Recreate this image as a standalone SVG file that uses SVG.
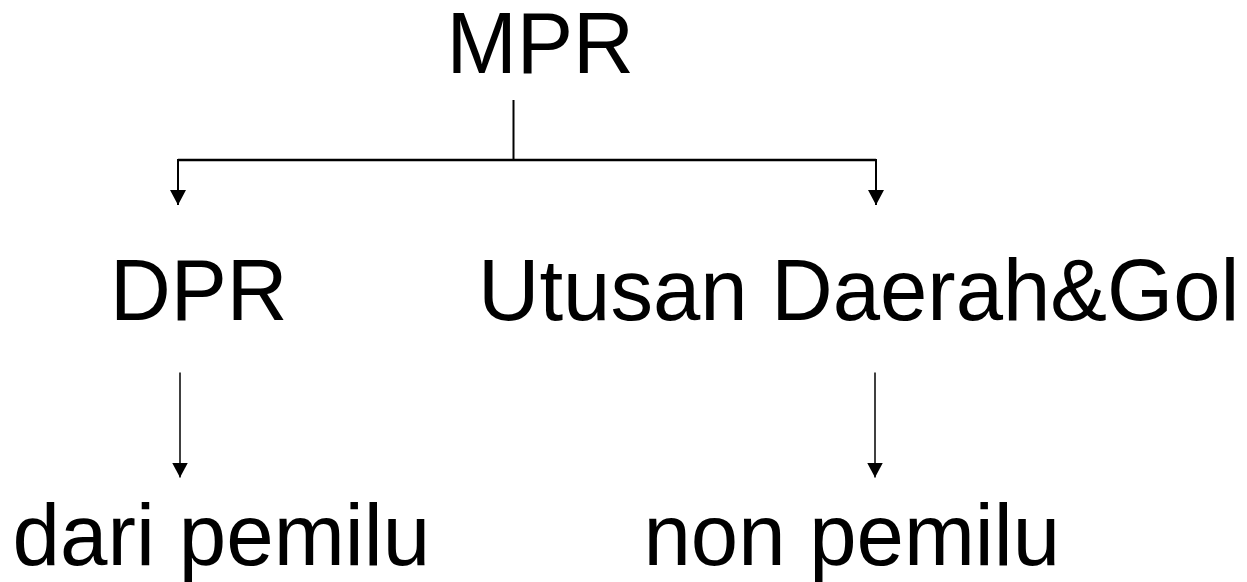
<svg xmlns="http://www.w3.org/2000/svg" width="1247" height="582" viewBox="0 0 1247 582">
  <style>
    .lbl { font-family: "Liberation Sans", Arial, sans-serif; font-size: 88px; fill: #000; }
    .conn { stroke: #000; fill: none; }
  </style>
  <defs>
    <marker id="arrow" markerUnits="userSpaceOnUse" viewBox="0 -8 15 16" refX="15" refY="0" markerWidth="15" markerHeight="16" orient="auto">
      <path d="M0,-8 L15,0 L0,8 Z" fill="#000"/>
    </marker>
  </defs>
  <rect width="1247" height="582" fill="#fff"/>
  <g id="connectors">
    <path class="conn" stroke-width="2" d="M513.5,100 V160"/>
    <path class="conn" stroke-width="2.5" d="M178,160 H876"/>
    <path class="conn" stroke-width="2" d="M178,159 V205" marker-end="url(#arrow)"/>
    <path class="conn" stroke-width="2" d="M876,159 V205" marker-end="url(#arrow)"/>
    <path class="conn" stroke-width="1.5" d="M180,372.5 V477.5" marker-end="url(#arrow)"/>
    <path class="conn" stroke-width="1.5" d="M875,372.5 V477.5" marker-end="url(#arrow)"/>
  </g>
  <g id="node-mpr">
    <text class="lbl" x="446.4" y="73" textLength="187.7" lengthAdjust="spacingAndGlyphs">MPR</text>
  </g>
  <g id="node-dpr">
    <text class="lbl" x="110" y="320" textLength="177.6" lengthAdjust="spacingAndGlyphs">DPR</text>
  </g>
  <g id="node-utusan">
    <text class="lbl" x="478" y="320" textLength="761.5" lengthAdjust="spacingAndGlyphs">Utusan Daerah&amp;Gol</text>
  </g>
  <g id="node-dari-pemilu">
    <text class="lbl" x="12.6" y="565" textLength="417.6" lengthAdjust="spacingAndGlyphs">dari pemilu</text>
  </g>
  <g id="node-non-pemilu">
    <text class="lbl" x="643.4" y="565" textLength="416.7" lengthAdjust="spacingAndGlyphs">non pemilu</text>
  </g>
</svg>
